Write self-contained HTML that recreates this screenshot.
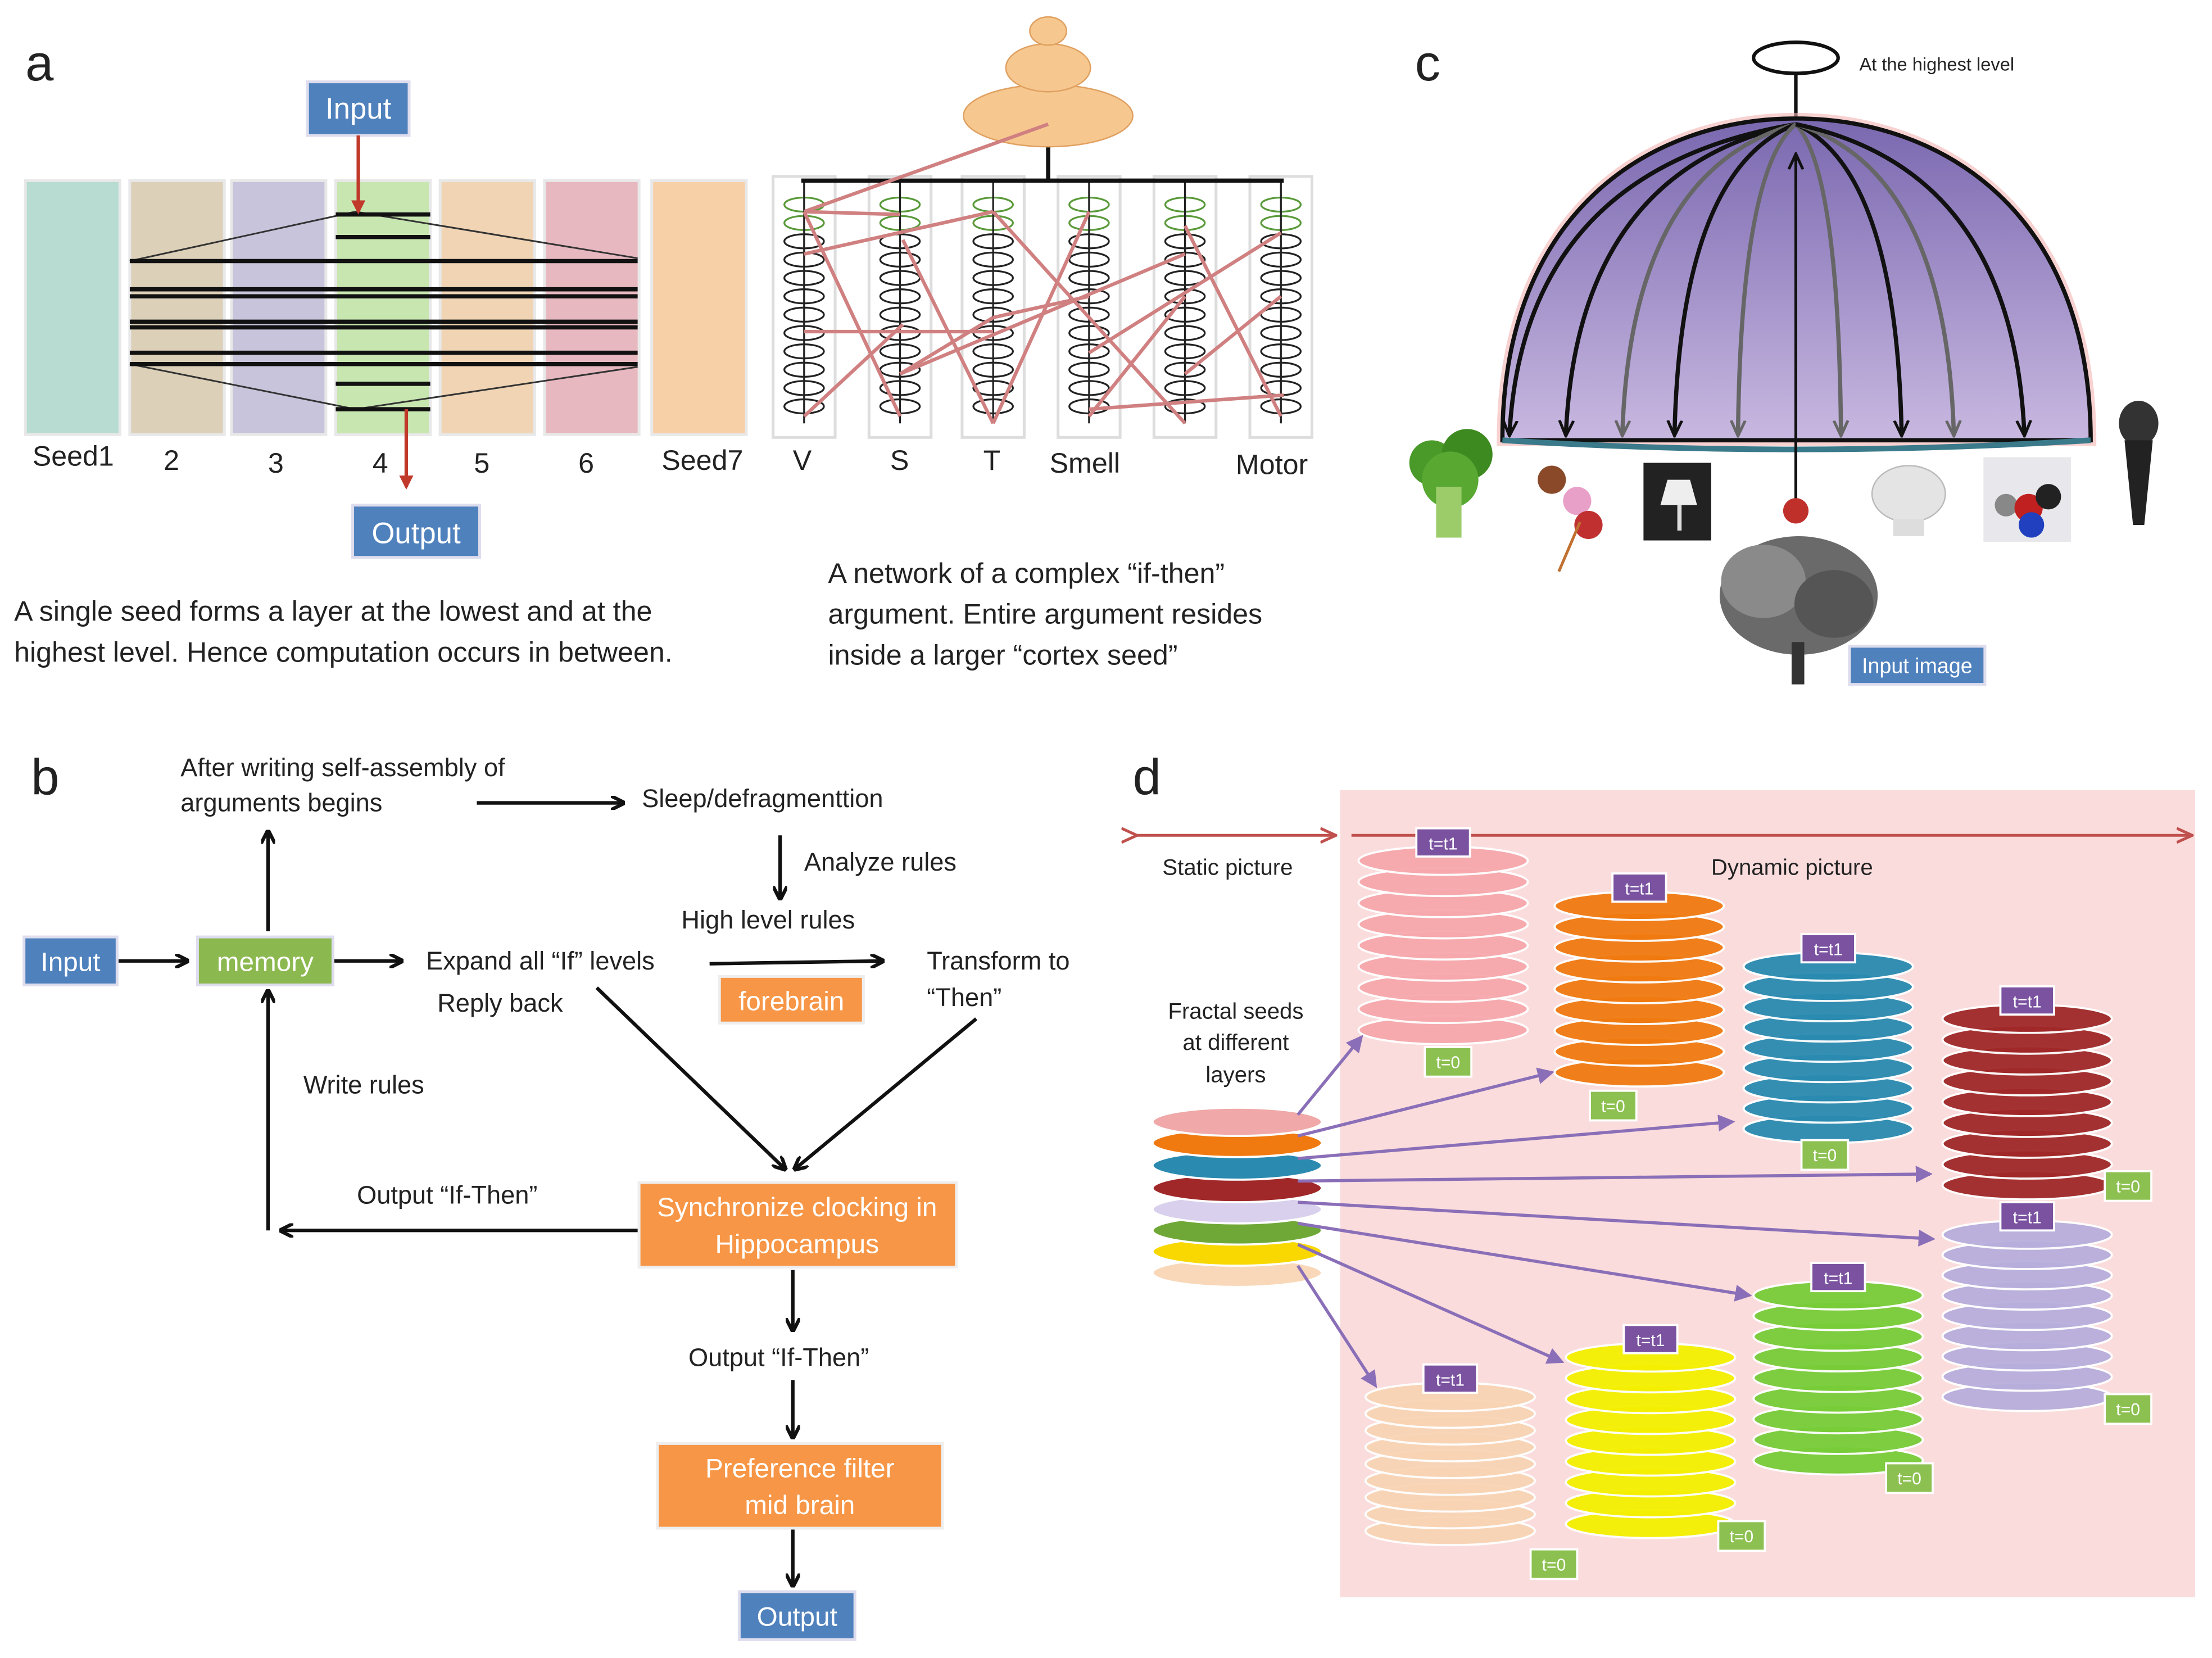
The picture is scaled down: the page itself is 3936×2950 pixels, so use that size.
<!DOCTYPE html>
<html><head><meta charset="utf-8"><style>
html,body{margin:0;padding:0;background:#fff}
svg{display:block}
text{font-family:"Liberation Sans",sans-serif;fill:#222}
</style></head><body>
<svg id="s" width="3936" height="2950" viewBox="0 0 1568 1175" preserveAspectRatio="none" xmlns="http://www.w3.org/2000/svg">
<defs>
<marker id="ab" markerWidth="10" markerHeight="10" refX="8" refY="5" orient="auto" markerUnits="userSpaceOnUse"><path d="M0,0 L10,5 L0,10" fill="none" stroke="#111" stroke-width="2.5"/></marker>
<marker id="ar" markerWidth="10" markerHeight="10" refX="8" refY="5" orient="auto" markerUnits="userSpaceOnUse"><path d="M0,0 L10,5 L0,10 z" fill="#c0392b"/></marker>
<marker id="ap" markerWidth="12" markerHeight="12" refX="10" refY="6" orient="auto" markerUnits="userSpaceOnUse"><path d="M0,0 L12,6 L0,12 z" fill="#8a6fb8"/></marker>
<marker id="ad" markerWidth="12" markerHeight="12" refX="10" refY="6" orient="auto" markerUnits="userSpaceOnUse"><path d="M0,1 L11,6 L0,11" fill="none" stroke="#111" stroke-width="2"/></marker>
<marker id="ag" markerWidth="12" markerHeight="12" refX="10" refY="6" orient="auto" markerUnits="userSpaceOnUse"><path d="M0,1 L11,6 L0,11" fill="none" stroke="#666" stroke-width="2"/></marker>
<marker id="arr" markerWidth="12" markerHeight="12" refX="10" refY="6" orient="auto" markerUnits="userSpaceOnUse"><path d="M0,1 L11,6 L0,11" fill="none" stroke="#c0504d" stroke-width="2"/></marker>
<linearGradient id="dome" x1="0" y1="0" x2="0" y2="1"><stop offset="0" stop-color="#7a68b0"/><stop offset="1" stop-color="#c8b8e0"/></linearGradient>
</defs>

<!-- Panel a -->
<text x="18" y="57" font-size="36">a</text>
<g id="cols"></g>
<rect x="218" y="58" width="72" height="38" fill="#4f81bd" stroke="#dde" stroke-width="2"/>
<text x="254" y="84" font-size="21" fill="#fff" text-anchor="middle" style="fill:#fff">Input</text>
<line x1="254" y1="96" x2="254" y2="150" stroke="#c0392b" stroke-width="2.5" marker-end="url(#ar)"/>
<line x1="288" y1="290" x2="288" y2="345" stroke="#c0392b" stroke-width="2.5" marker-end="url(#ar)"/>
<rect x="250" y="358" width="90" height="37" fill="#4f81bd" stroke="#dde" stroke-width="2"/>
<text x="295" y="385" font-size="21" text-anchor="middle" style="fill:#fff">Output</text>
<g font-size="20">
<text x="23" y="330">Seed1</text><text x="116" y="333">2</text><text x="190" y="335">3</text><text x="264" y="335">4</text><text x="336" y="335">5</text><text x="410" y="335">6</text><text x="469" y="333">Seed7</text>
<text x="562" y="333">V</text><text x="631" y="333">S</text><text x="697" y="333">T</text><text x="744" y="335">Smell</text><text x="876" y="336">Motor</text>
</g>
<g font-size="20">
<text x="10" y="440">A single seed forms a layer at the lowest and at the</text>
<text x="10" y="469">highest level. Hence computation occurs in between.</text>
<text x="587" y="413">A network of a complex “if-then”</text>
<text x="587" y="442">argument. Entire argument resides</text>
<text x="587" y="471">inside a larger “cortex seed”</text>
</g>
<g id="net"></g>

<!-- Panel c -->
<text x="1003" y="57" font-size="36">c</text>
<ellipse cx="1273" cy="41" rx="30" ry="11" fill="#fff" stroke="#111" stroke-width="2.5"/>
<line x1="1273" y1="52" x2="1273" y2="85" stroke="#111" stroke-width="2.5"/>
<text x="1318" y="50" font-size="13">At the highest level</text>
<path d="M1065,312 C1065,150 1170,84 1273,84 C1376,84 1482,150 1482,312 Z" fill="url(#dome)" stroke="#f4b4b4" stroke-width="8" opacity="0.6"/>
<path d="M1065,312 C1065,150 1170,84 1273,84 C1376,84 1482,150 1482,312 Z" fill="url(#dome)" stroke="#111" stroke-width="3"/>
<path d="M1065,312 Q1273,325 1482,312" fill="none" stroke="#3a7a8a" stroke-width="4"/>
<g id="darr"></g>
<line x1="1273" y1="355" x2="1273" y2="110" stroke="#111" stroke-width="2" marker-end="url(#ad)"/>
<circle cx="1273" cy="362" r="9" fill="#c0302a"/>
<g>
<circle cx="1015" cy="328" r="16" fill="#4a9a2a"/><circle cx="1040" cy="322" r="18" fill="#3c8a20"/><circle cx="1028" cy="340" r="20" fill="#58a832"/><rect x="1018" y="345" width="18" height="36" fill="#9ccc6a"/>
<circle cx="1100" cy="340" r="10" fill="#8a4a2a"/><circle cx="1118" cy="355" r="10" fill="#e8a0c8"/><circle cx="1126" cy="372" r="10" fill="#c03030"/><line x1="1120" y1="370" x2="1105" y2="405" stroke="#c07030" stroke-width="2"/>
<rect x="1165" y="328" width="48" height="55" fill="#222"/><path d="M1182,340 L1198,340 L1203,358 L1177,358 Z" fill="#eee"/><rect x="1189" y="358" width="3" height="18" fill="#ddd"/>
<ellipse cx="1353" cy="350" rx="26" ry="20" fill="#e4e4e4" stroke="#bbb"/><rect x="1342" y="368" width="22" height="12" fill="#ddd"/>
<rect x="1406" y="324" width="62" height="60" fill="#e8e8ec"/><circle cx="1422" cy="358" r="8" fill="#888"/><circle cx="1438" cy="360" r="10" fill="#c02020"/><circle cx="1452" cy="352" r="9" fill="#222"/><circle cx="1440" cy="372" r="9" fill="#2040c0"/>
<ellipse cx="1516" cy="300" rx="14" ry="16" fill="#333"/><path d="M1506,312 L1526,312 L1520,372 L1512,372 Z" fill="#222"/>
<ellipse cx="1275" cy="422" rx="56" ry="42" fill="#6a6a6a"/><ellipse cx="1250" cy="412" rx="30" ry="26" fill="#8a8a8a"/><ellipse cx="1300" cy="428" rx="28" ry="24" fill="#555"/><rect x="1270" y="455" width="9" height="30" fill="#333"/>
<rect x="1311" y="458" width="96" height="27" fill="#4f81bd" stroke="#dde" stroke-width="2"/>
<text x="1359" y="477" font-size="15" text-anchor="middle" style="fill:#fff">Input image</text>
</g>

<!-- Panel b -->
<text x="22" y="563" font-size="36">b</text>
<g font-size="18">
<text x="128" y="550">After writing self-assembly of</text>
<text x="128" y="575">arguments begins</text>
<text x="455" y="572">Sleep/defragmenttion</text>
<text x="570" y="617">Analyze rules</text>
<text x="483" y="658">High level rules</text>
<text x="302" y="687">Expand all “If” levels</text>
<text x="657" y="687">Transform to</text>
<text x="657" y="713">“Then”</text>
<text x="310" y="717">Reply back</text>
<text x="215" y="775">Write rules</text>
<text x="253" y="853">Output “If-Then”</text>
<text x="488" y="968">Output “If-Then”</text>
</g>
<g stroke="#111" stroke-width="2.5" fill="none">
<line x1="84" y1="681" x2="132" y2="681" marker-end="url(#ab)"/>
<line x1="237" y1="681" x2="284" y2="681" marker-end="url(#ab)"/>
<line x1="190" y1="660" x2="190" y2="590" marker-end="url(#ab)"/>
<line x1="338" y1="569" x2="441" y2="569" marker-end="url(#ab)"/>
<line x1="553" y1="592" x2="553" y2="636" marker-end="url(#ab)"/>
<line x1="503" y1="683" x2="625" y2="681" marker-end="url(#ab)"/>
<line x1="423" y1="700" x2="556" y2="828" marker-end="url(#ab)"/>
<line x1="692" y1="722" x2="564" y2="828" marker-end="url(#ab)"/>
<line x1="453" y1="872" x2="200" y2="872" marker-end="url(#ab)"/>
<line x1="190" y1="872" x2="190" y2="703" marker-end="url(#ab)"/>
<line x1="562" y1="900" x2="562" y2="942" marker-end="url(#ab)"/>
<line x1="562" y1="978" x2="562" y2="1018" marker-end="url(#ab)"/>
<line x1="562" y1="1083" x2="562" y2="1123" marker-end="url(#ab)"/>
</g>
<rect x="17" y="664" width="66" height="34" fill="#4f81bd" stroke="#dde" stroke-width="2"/>
<text x="50" y="688" font-size="19" text-anchor="middle" style="fill:#fff">Input</text>
<rect x="140" y="664" width="96" height="34" fill="#8cb850" stroke="#dde" stroke-width="2"/>
<text x="188" y="688" font-size="19" text-anchor="middle" style="fill:#fff">memory</text>
<rect x="510" y="692" width="102" height="33" fill="#f79646" stroke="#eee" stroke-width="2"/>
<text x="561" y="716" font-size="19" text-anchor="middle" style="fill:#fff">forebrain</text>
<rect x="453" y="838" width="225" height="60" fill="#f79646" stroke="#eee" stroke-width="2"/>
<text x="565" y="862" font-size="19" text-anchor="middle" style="fill:#fff">Synchronize clocking in</text>
<text x="565" y="888" font-size="19" text-anchor="middle" style="fill:#fff">Hippocampus</text>
<rect x="466" y="1023" width="202" height="60" fill="#f79646" stroke="#eee" stroke-width="2"/>
<text x="567" y="1047" font-size="19" text-anchor="middle" style="fill:#fff">Preference filter</text>
<text x="567" y="1073" font-size="19" text-anchor="middle" style="fill:#fff">mid brain</text>
<rect x="524" y="1128" width="82" height="34" fill="#4f81bd" stroke="#dde" stroke-width="2"/>
<text x="565" y="1152" font-size="19" text-anchor="middle" style="fill:#fff">Output</text>

<!-- Panel d -->
<text x="803" y="563" font-size="36">d</text>
<rect x="950" y="560" width="606" height="572" fill="#fbdcdc"/>
<line x1="805" y1="592" x2="946" y2="592" stroke="#c0504d" stroke-width="2" marker-end="url(#arr)" marker-start="url(#arr)"/>
<line x1="958" y1="592" x2="1553" y2="592" stroke="#c0504d" stroke-width="2" marker-end="url(#arr)"/>
<text x="824" y="620" font-size="16">Static picture</text>
<text x="1213" y="620" font-size="16">Dynamic picture</text>
<text x="876" y="722" font-size="16" text-anchor="middle">Fractal seeds</text>
<text x="876" y="744" font-size="16" text-anchor="middle">at different</text>
<text x="876" y="767" font-size="16" text-anchor="middle">layers</text>
<g id="dd"></g>
</svg>
<script>
var NS="http://www.w3.org/2000/svg";
function el(p,t,a,txt){var e=document.createElementNS(NS,t);for(var k in a)e.setAttribute(k,a[k]);if(txt!=null)e.textContent=txt;document.getElementById(p).appendChild(e);return e;}
var cols=[[18,'#b8dcd2'],[92,'#ddd0b8'],[164,'#c8c4dc'],[238,'#c8e6b0'],[312,'#f0d4b4'],[386,'#e8b8c0'],[462,'#f8d0a8']];
cols.forEach(function(c){el('cols','rect',{x:c[0],y:128,width:67,height:180,fill:c[1],stroke:'#e8e8e8','stroke-width':2});});
el('cols','path',{d:'M92,185 L252,150 L452,183 M92,258 L252,290 L452,260',fill:'none',stroke:'#333','stroke-width':1.2});
[[238,305,152],[238,305,290]].forEach(function(l){el('cols','line',{x1:l[0],y1:l[2],x2:l[1],y2:l[2],stroke:'#111','stroke-width':3});});
[185,205,210,228,232,250,258].forEach(function(y){el('cols','line',{x1:92,y1:y,x2:452,y2:y,stroke:'#111','stroke-width':3});});
el('cols','line',{x1:238,y1:168,x2:305,y2:168,stroke:'#111','stroke-width':3});
el('cols','line',{x1:238,y1:272,x2:305,y2:272,stroke:'#111','stroke-width':3});
var ncx=[570,638,704,772,840,908];
ncx.forEach(function(x){el('net','rect',{x:x-22,y:125,width:44,height:185,fill:'#fff',stroke:'#ddd','stroke-width':2});
 for(var y=145;y<=300;y+=13){el('net','ellipse',{cx:x,cy:y,rx:14,ry:5,fill:'none',stroke:y<160?'#5a9a3a':'#222','stroke-width':1.3});}
 el('net','line',{x1:x,y1:128,x2:x,y2:300,stroke:'#222','stroke-width':1.3});});
el('net','line',{x1:568,y1:128,x2:910,y2:128,stroke:'#111','stroke-width':3});
el('net','line',{x1:743,y1:20,x2:743,y2:128,stroke:'#111','stroke-width':3});
el('net','ellipse',{cx:743,cy:82,rx:60,ry:22,fill:'#f6c890',stroke:'#e0a060'});
el('net','ellipse',{cx:743,cy:48,rx:30,ry:17,fill:'#f6c890',stroke:'#e0a060'});
el('net','ellipse',{cx:743,cy:22,rx:13,ry:10,fill:'#f6c890',stroke:'#e0a060'});
var pl=[[743,88,570,150],[570,150,638,152],[570,150,638,295],[570,180,704,150],[638,265,704,225],[704,225,772,210],[570,235,704,235],[638,265,840,180],[704,300,772,150],[704,300,640,170],[772,295,840,210],[772,250,908,165],[840,160,908,295],[840,265,908,210],[570,295,640,230],[772,290,910,280],[704,150,840,300]];
pl.forEach(function(p){el('net','line',{x1:p[0],y1:p[1],x2:p[2],y2:p[3],stroke:'#d08080','stroke-width':2.5});});
var bx=[[1070,'#111'],[1110,'#111'],[1150,'#666'],[1187,'#111'],[1232,'#666'],[1305,'#666'],[1348,'#111'],[1385,'#666'],[1435,'#111']];
bx.forEach(function(b){var x=b[0];var cx=1273+(x-1273)*0.95;var d='M1273,88 Q'+cx+',120 '+x+',308';
 el('darr','path',{d:d,fill:'none',stroke:b[1],'stroke-width':3,'marker-end':b[1]=='#111'?'url(#ad)':'url(#ag)'});});
var seeds=['#f0a8a8','#f07a10','#2a8ab0','#a02828','#d8d0ec','#70a838','#f8d800','#f8d8b8'];
// cx, top, bottom, color, t0 box x, t0 box y
var stacks=[[1023,610,730,'#f6a8ac',1010,742],[1162,642,760,'#f07a10',1127,773],[1296,685,800,'#2a8ab0',1277,808],[1437,722,840,'#a02828',1492,830],[1437,875,990,'#b8aedc',1492,988],[1303,918,1035,'#78cc38',1337,1037],[1170,962,1080,'#f4f000',1218,1078],[1028,990,1085,'#f8d4b4',1085,1098]];
var targets=[[965,735],[1100,760],[1228,795],[1368,832],[1370,878],[1240,918],[1107,965],[975,982]];
stacks.forEach(function(s){var n=9,st=(s[2]-s[1])/(n-1);
 for(var i=n-1;i>=0;i--){el('dd','ellipse',{cx:s[0],cy:s[1]+i*st,rx:60,ry:10,fill:s[3],stroke:'#fff','stroke-width':1.5,opacity:0.95});}
 el('dd','rect',{x:s[0]-19,y:s[1]-23,width:38,height:20,fill:'#7a52a0',stroke:'#fff','stroke-width':1.5});
 el('dd','text',{x:s[0],y:s[1]-8,'font-size':12,'text-anchor':'middle',style:'fill:#fff'},'t=t1');
 el('dd','rect',{x:s[4],y:s[5],width:33,height:21,fill:'#8cc050',stroke:'#fff','stroke-width':1.5});
 el('dd','text',{x:s[4]+16.5,y:s[5]+15,'font-size':12,'text-anchor':'middle',style:'fill:#fff'},'t=0');});
var sy=[795,810,826,842,857,872,887,902];
for(var i=7;i>=0;i--){el('dd','ellipse',{cx:877,cy:sy[i],rx:60,ry:10,fill:seeds[i],stroke:'#fff','stroke-width':1.5});}
targets.forEach(function(t,i){el('dd','line',{x1:920,y1:sy[i]-5,x2:t[0],y2:t[1],stroke:'#8a6fb8','stroke-width':2.2,'marker-end':'url(#ap)'});});
</script>
</body></html>
